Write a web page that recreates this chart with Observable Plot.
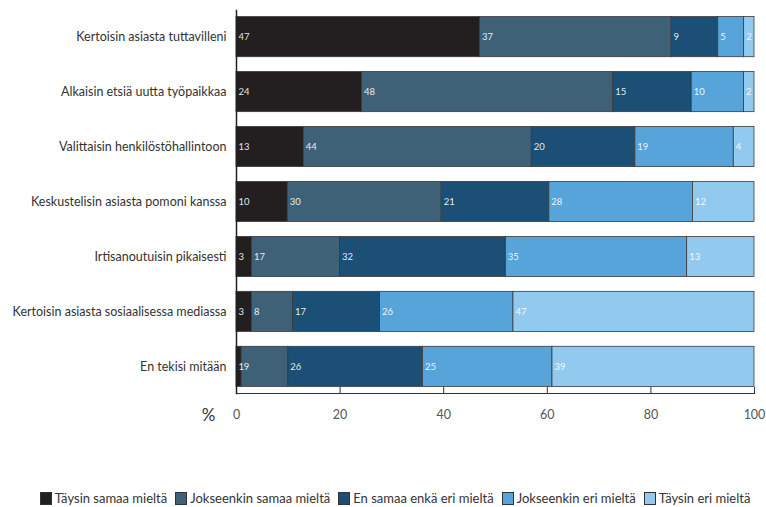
<!DOCTYPE html>
<html><head><meta charset="utf-8">
<script src="https://cdn.jsdelivr.net/npm/d3@7"></script>
<script src="https://cdn.jsdelivr.net/npm/@observablehq/plot@0.6"></script>
<style>
body{margin:0;background:#fff;font-family:Lato,"Open Sans",sans-serif;}
#legend{display:flex;justify-content:center;gap:8px;font-size:13px;color:#333;line-height:16px;height:16px;margin-left:24px;margin-top:2px;}
#legend span.i{display:flex;align-items:center;gap:3px;}
#legend span.s{width:10px;height:11px;border:1px solid #333;display:inline-block;}
</style></head><body>
<div id="chart"></div>
<div id="legend"></div>
<script>
const questions = [
  "Kertoisin asiasta tuttavilleni",
  "Alkaisin etsiä uutta työpaikkaa",
  "Valittaisin henkilöstöhallintoon",
  "Keskustelisin asiasta pomoni kanssa",
  "Irtisanoutuisin pikaisesti",
  "Kertoisin asiasta sosiaalisessa mediassa",
  "En tekisi mitään"
];
const categories = ["Täysin samaa mieltä","Jokseenkin samaa mieltä","En samaa enkä eri mieltä","Jokseenkin eri mieltä","Täysin eri mieltä"];
const colors = ["#231f20","#3e6177","#1c4f75","#56a4da","#92c9ef"];
const taysinSamaa   = [47,24,13,10,3,3,1];
const jokseenSamaa  = [37,48,44,30,17,8,9];
const enSamaaEnkaEri= [9,15,20,21,32,17,26];
const jokseenEri    = [5,10,19,28,35,26,25];
const taysinEri     = [2,2,4,12,13,47,39];
const xTicks = [0,20,40,60,80,100];

const series = [taysinSamaa, jokseenSamaa, enSamaaEnkaEri, jokseenEri, taysinEri];
const data = [];
questions.forEach((q,i)=>series.forEach((s,j)=>data.push({q, cat: categories[j], value: s[i]})));

const tickPos = xTicks.map(t => t / 100);
const chart = Plot.plot({
  width: 766, height: 488,
  marginLeft: 236, marginRight: 12, marginTop: 10, marginBottom: 95,
  style: {fontFamily: "Lato, 'Open Sans', sans-serif", background: "#fff"},
  x: {domain: [0,1]},
  y: {domain: questions, paddingInner: 0.27, paddingOuter: 0.12, round: false, label: null},
  color: {domain: categories, range: colors},
  marks: [
    Plot.barX(data, Plot.stackX({x: "value", y: "q", fill: "cat", z: "cat", order: categories, offset: "normalize", stroke: "#3a3a3a", strokeWidth: 0.8})),
    Plot.text(data, Plot.stackX1({x: "value", y: "q", z: "cat", order: categories, offset: "normalize", text: "value", textAnchor: "start", dx: 2, fill: "#fff", fontSize: 9.5, fillOpacity: 0.9})),
    Plot.axisY({tickSize: 0, tickPadding: 10, fontSize: 12.5, fill: "#333", label: null}),
    Plot.axisX({ticks: tickPos, tickFormat: d => Math.round(d * 100), tickSize: 0, tickPadding: 17, fontSize: 12.5, fill: "#555", label: null}),
    Plot.axisX({ticks: tickPos, tickSize: -6, tickFormat: () => "", stroke: "#333", label: null}),
    Plot.frame({anchor: "bottom", stroke: "#333", strokeWidth: 1.2}),
    Plot.frame({anchor: "left", stroke: "#222", strokeWidth: 1.5}),
    Plot.text(["%"], {frameAnchor: "bottom-left", dx: -28, dy: 27, fontSize: 17, fill: "#333", textAnchor: "middle"})
  ]
});
document.getElementById("chart").appendChild(chart);

const lg = document.getElementById("legend");
categories.forEach((c,i)=>{
  const it = document.createElement("span"); it.className="i";
  const sw = document.createElement("span"); sw.className="s"; sw.style.background = colors[i];
  it.appendChild(sw); it.appendChild(document.createTextNode(c));
  lg.appendChild(it);
});
</script>
</body></html>
